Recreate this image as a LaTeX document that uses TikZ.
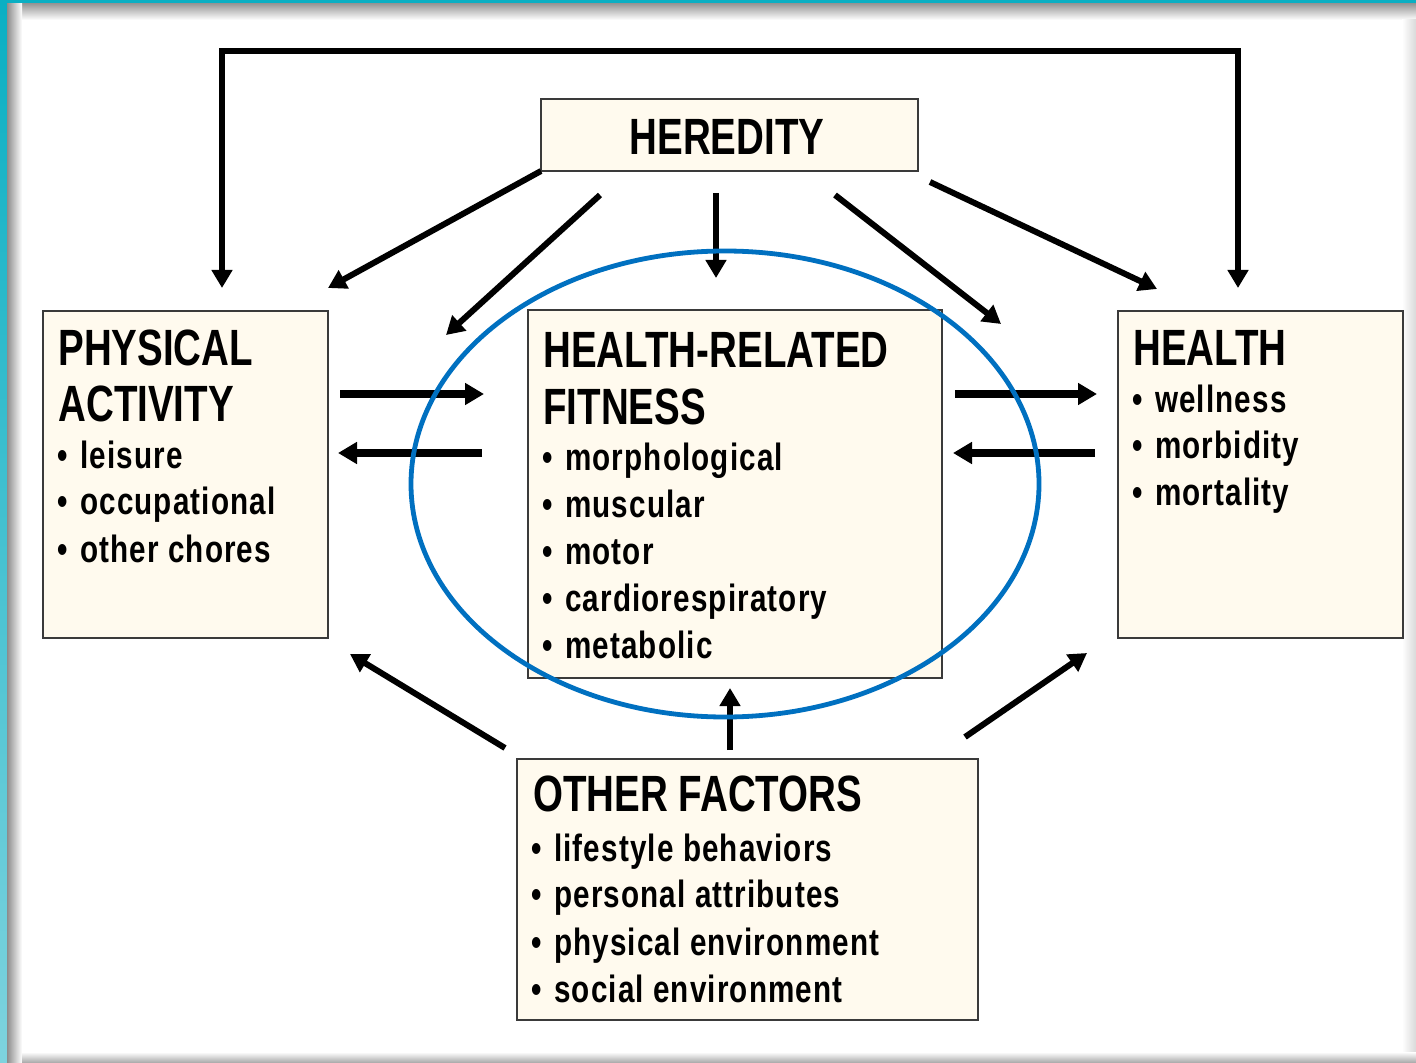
\documentclass[tikz,border=0pt]{standalone}
\usepackage{fontspec}
\newfontfamily\ttlfont[FakeStretch=0.755]{Liberation Sans}
\newfontfamily\itmfont[FakeStretch=0.78,LetterSpace=3]{Liberation Sans}
\usetikzlibrary{arrows.meta,fit}
\definecolor{cream}{HTML}{FFFAEE}
\definecolor{tealA}{HTML}{0AAFC3}
\definecolor{tealB}{HTML}{7ED3DE}
\definecolor{ringblue}{HTML}{0070C0}
\definecolor{boxline}{HTML}{3A3A3A}
\newcommand{\bul}{•\hspace{1.5pt}~}
\tikzset{
  box/.style={draw=boxline, line width=1pt, fill=cream, inner sep=0pt},
  ttl/.style={anchor=base west, inner sep=0pt, font=\ttlfont\bfseries\fontsize{25.5}{30}\selectfont},
  itm/.style={anchor=base west, inner sep=0pt, font=\itmfont\bfseries\fontsize{19}{23}\selectfont},
  arr/.style={line width=3pt, -{Triangle[length=9pt,width=10pt]}},
  harr/.style={line width=4pt, -{Triangle[length=9.5pt,width=10.5pt]}},
  ring/.style={draw=ringblue, line width=2.4pt},
}
\begin{document}
\begin{tikzpicture}[x=0.5pt,y=-0.5pt]
\useasboundingbox (0,0) rectangle (1416,1063);
% slide frame with soft inner shadow
\fill[tealA] (0,0) rectangle (1416,1063);
\shade[top color=tealA,bottom color=tealB] (0,0) rectangle (7,1063);
\fill[white] (7,4) rectangle (1416,1063);
\shade[top color=black!40,bottom color=white] (7,4) rectangle (1416,20);
\shade[left color=black!45,right color=white] (7,4) rectangle (22,1063);
\shade[left color=white,right color=black!15] (1402,20) rectangle (1416,1063);
\shade[top color=white,bottom color=black!35] (22,1052) rectangle (1416,1063);

% boxes
\node[box, fit={(541,99) (918,171)}] (her) {};
\node[box, fit={(43,311) (328,638)}] (pa) {};
\node[box, fit={(528,310) (942,678)}] (hrf) {};
\node[box, fit={(1118,311) (1403,638)}] (hl) {};
\node[box, fit={(517,759) (978,1020)}] (of) {};

% texts
\node[ttl, anchor=base] (herT) at (727,155) {HEREDITY};

\node[ttl] (paT1) at (58,366) {PHYSICAL};
\node[ttl] (paT2) at (58,422) {ACTIVITY};
\node[itm] (paI1) at (57,468) {\bul leisure};
\node[itm] (paI2) at (57,514) {\bul occupational};
\node[itm] (paI3) at (57,562) {\bul other chores};

\node[ttl] (hrfT1) at (543,368) {HEALTH-RELATED};
\node[ttl] (hrfT2) at (543,424) {FITNESS};
\node[itm] (hrfI1) at (542,470) {\bul morphological};
\node[itm] (hrfI2) at (542,517) {\bul muscular};
\node[itm] (hrfI3) at (542,564) {\bul motor};
\node[itm] (hrfI4) at (542,611) {\bul cardiorespiratory};
\node[itm] (hrfI5) at (542,658) {\bul metabolic};

\node[ttl] (hlT) at (1133,365) {HEALTH};
\node[itm] (hlI1) at (1132,412) {\bul wellness};
\node[itm] (hlI2) at (1132,458) {\bul morbidity};
\node[itm] (hlI3) at (1132,505) {\bul mortality};

\node[ttl] (ofT) at (533,811) {OTHER FACTORS};
\node[itm] (ofI1) at (531,861) {\bul lifestyle behaviors};
\node[itm] (ofI2) at (531,907) {\bul personal attributes};
\node[itm] (ofI3) at (531,955) {\bul physical environment};
\node[itm] (ofI4) at (531,1002) {\bul social environment};

% arrow end points
\coordinate (lpTip) at (222,288);
\coordinate (lpA) at (222,51);
\coordinate (lpB) at (1238,51);
\coordinate (lpEnd) at (1238,288);
\coordinate (h1s) at (541,171);  \coordinate (h1e) at (328,288);
\coordinate (h2s) at (600,195);  \coordinate (h2e) at (446,335);
\coordinate (h3s) at (716,193);  \coordinate (h3e) at (716,278);
\coordinate (h4s) at (835,195);  \coordinate (h4e) at (1001,324);
\coordinate (h5s) at (930,182);  \coordinate (h5e) at (1157,289);
\coordinate (m1s) at (340,394);  \coordinate (m1e) at (484,394);
\coordinate (m2s) at (482,453);  \coordinate (m2e) at (338,453);
\coordinate (m3s) at (955,394);  \coordinate (m3e) at (1097,394);
\coordinate (m4s) at (1095,453); \coordinate (m4e) at (953,453);
\coordinate (b1s) at (505,748);  \coordinate (b1e) at (350,654);
\coordinate (b2s) at (730,750);  \coordinate (b2e) at (730,688);
\coordinate (b3s) at (965,737);  \coordinate (b3e) at (1087,653);

% connectors
\draw[line width=3pt, {Triangle[length=9pt,width=10pt]}-{Triangle[length=9pt,width=10pt]}]
  (lpTip) -- (lpA) -- (lpB) -- (lpEnd);
\draw[arr] (h1s) -- (h1e);
\draw[arr] (h2s) -- (h2e);
\draw[arr] (h3s) -- (h3e);
\draw[arr] (h4s) -- (h4e);
\draw[arr] (h5s) -- (h5e);
\draw[harr] (m1s) -- (m1e);
\draw[harr] (m2s) -- (m2e);
\draw[harr] (m3s) -- (m3e);
\draw[harr] (m4s) -- (m4e);
\draw[arr] (b1s) -- (b1e);
\draw[arr] (b2s) -- (b2e);
\draw[arr] (b3s) -- (b3e);

% highlight ring around the fitness box
\draw[ring] (725,484) ellipse [x radius=314, y radius=233];
\end{tikzpicture}
\end{document}
